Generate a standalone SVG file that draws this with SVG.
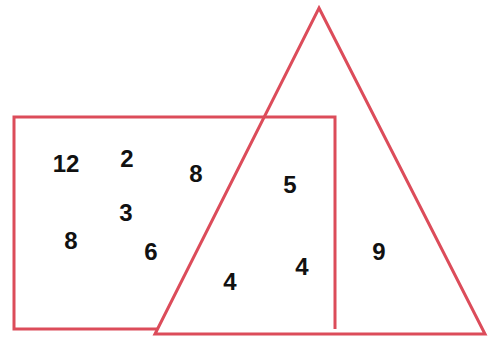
<svg xmlns="http://www.w3.org/2000/svg" width="488" height="337" viewBox="0 0 488 337">
<style>
.shape{fill:none;stroke:#dc4c5a;stroke-width:3;stroke-linejoin:miter}
.n{font-family:"Liberation Sans",Arial,sans-serif;font-weight:bold;font-size:24px;fill:#111;text-anchor:middle}
</style>
<rect width="488" height="337" fill="#fff"/>
<g id="shapes">
<g id="rectangle"><path class="shape" d="M157 329 L14 329 L14 117 L335 117 L335 329"/></g>
<g id="triangle"><path class="shape" d="M319 8 L485 334 L155 334 Z"/></g>
</g>
<g id="labels">
<text class="n" x="66" y="172">12</text>
<text class="n" x="127" y="167">2</text>
<text class="n" x="196" y="182">8</text>
<text class="n" x="290" y="193">5</text>
<text class="n" x="126" y="221">3</text>
<text class="n" x="71" y="249">8</text>
<text class="n" x="151" y="260">6</text>
<text class="n" x="230" y="290">4</text>
<text class="n" x="302" y="275">4</text>
<text class="n" x="379" y="260">9</text>
</g>
</svg>
